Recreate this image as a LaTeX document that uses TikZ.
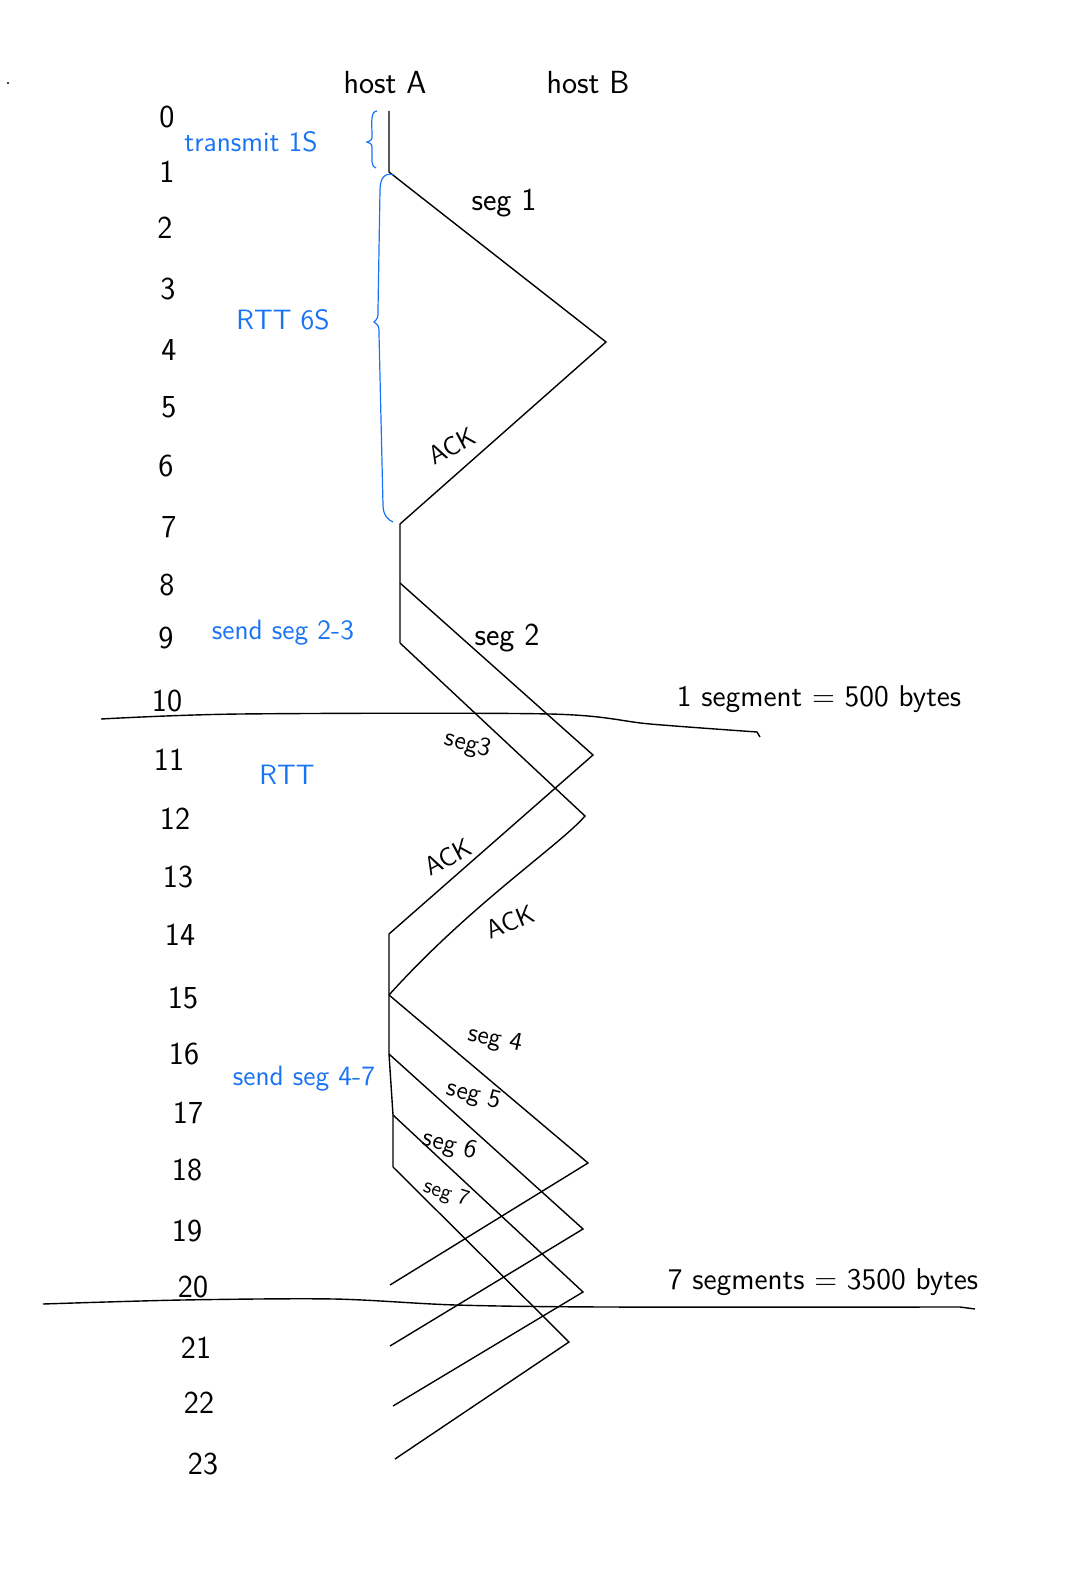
\documentclass[tikz,border=0pt]{standalone}
\usepackage{amsmath, amssymb}
\usepackage{tikz}
\definecolor{pen}{RGB}{25,115,245}

\begin{document}
\begin{tikzpicture}[x=0.5pt,y=-0.5pt,line width=.7pt,
	font=\sffamily\fontsize{16}{18}\selectfont,
	note/.style={text=pen,font=\sffamily\fontsize{14}{16}\selectfont},
	lbl/.style={font=\sffamily\fontsize{15}{17}\selectfont},
	small/.style={font=\sffamily\fontsize{13}{15}\selectfont,inner sep=0pt}]
\useasboundingbox (0,0) rectangle (1072,1588);
\fill (8,83) circle (1.2);
\path (385,83) node (hosta) {host A}
		(588,83) node (hostb) {host B}
		(167,117) node (t0) {0}
		(167,172) node (t1) {1}
		(165,228) node (t2) {2}
		(168,289) node (t3) {3}
		(169,350) node (t4) {4}
		(169,407) node (t5) {5}
		(166,466) node (t6) {6}
		(169,527) node (t7) {7}
		(167,585) node (t8) {8}
		(166,638) node (t9) {9}
		(167,701) node (t10) {10}
		(169,760) node (t11) {11}
		(175,819) node (t12) {12}
		(178,877) node (t13) {13}
		(180,935) node (t14) {14}
		(183,998) node (t15) {15}
		(184,1054) node (t16) {16}
		(188,1113) node (t17) {17}
		(187,1170) node (t18) {18}
		(187,1231) node (t19) {19}
		(193,1287) node (t20) {20}
		(196,1348) node (t21) {21}
		(199,1403) node (t22) {22}
		(203,1464) node (t23) {23}
		;

\path (251,142) node[note] (transmit) {transmit 1S}
		(283,320) node[note] (rtta) {RTT 6S}
		(283,633) node[note] (sendb) {send seg 2-3}
		(287,775) node[note] (rttb) {RTT}
		(304,1079) node[note] (sendc) {send seg 4-7}
		(819,699) node[lbl] (onesegment) {1 segment = 500 bytes}
		(823,1282) node[lbl] (sevensegments) {7 segments = 3500 bytes}
		(504,203) node (segi) {seg 1}
		(452,446) node[small,rotate=28] (acki) {ACK}
		(507,638) node (segii) {seg 2}
		(468,745) node[small,rotate=-15] (segiii) {seg3}
		(448,857) node[small,rotate=28] (ackii) {ACK}
		(510,922) node[small,rotate=22] (ackiii) {ACK}
		(495,1040) node[small,rotate=-12] (segiv) {seg 4}
		(474,1096) node[small,rotate=-15] (segv) {seg 5}
		(450,1146) node[small,rotate=-15] (segvi) {seg 6}
		(446,1194) node[small,rotate=-18,font=\sffamily\fontsize{11}{13}\selectfont] (segvii) {seg 7}
		;

\path (389,111) coordinate (a0)
		(389,172) coordinate (a1)
		(606,342) coordinate (b1)
		(400,524) coordinate (a7)
		(400,583) coordinate (a8)
		(400,643) coordinate (a9)
		(593,755) coordinate (b2)
		(585,816) coordinate (b3)
		(389,934) coordinate (a14)
		(389,995) coordinate (a15)
		(389,1054) coordinate (a16)
		(393,1115) coordinate (a17)
		(393,1167) coordinate (a18)
		(588,1163) coordinate (b4)
		(583,1229) coordinate (b5)
		(583,1292) coordinate (b6)
		(569,1342) coordinate (b7)
		(390,1285) coordinate (e4)
		(390,1346) coordinate (e5)
		(393,1406) coordinate (e6)
		(395,1459) coordinate (e7)
		;

\draw  	(node cs:name=a0) -- (node cs:name=a1) -- (node cs:name=b1) -- (node cs:name=a7) -- (node cs:name=a9);
\draw	(node cs:name=a8) -- (node cs:name=b2) -- (node cs:name=a14) -- (node cs:name=a16) -- (node cs:name=a17) -- (node cs:name=a18);
\draw	(node cs:name=a9) -- (node cs:name=b3) .. controls (560,845) and (470,905) .. (node cs:name=a15);
\draw	(node cs:name=a15) -- (node cs:name=b4) -- (node cs:name=e4);
\draw	(node cs:name=a16) -- (node cs:name=b5) -- (node cs:name=e5);
\draw	(node cs:name=a17) -- (node cs:name=b6) -- (node cs:name=e6);
\draw	(node cs:name=a18) -- (node cs:name=b7) -- (node cs:name=e7);

\draw	plot[smooth] coordinates {(101,719) (240,714) (550,714) (650,724) (757,732)} -- (760,737);
\draw	plot[smooth] coordinates {(43,1304) (182,1300) (334,1299) (456,1305) (608,1307) (960,1307)} -- (975,1309);

\draw[pen,line width=.6pt] (377,111) .. controls (370,111) and (372,125) .. (372,135)
		.. controls (372,140) .. (367,142) .. controls (372,144) .. (372,150)
		.. controls (372,160) and (371,167) .. (376,168);
\draw[pen,line width=.6pt] (394,175) .. controls (385,172) and (380,178) .. (380,190) -- (378,310)
		.. controls (378,318) .. (374,322) .. controls (379,326) .. (379,334) -- (383,505)
		.. controls (383,515) and (388,520) .. (393,522);
\end{tikzpicture}
\end{document}
